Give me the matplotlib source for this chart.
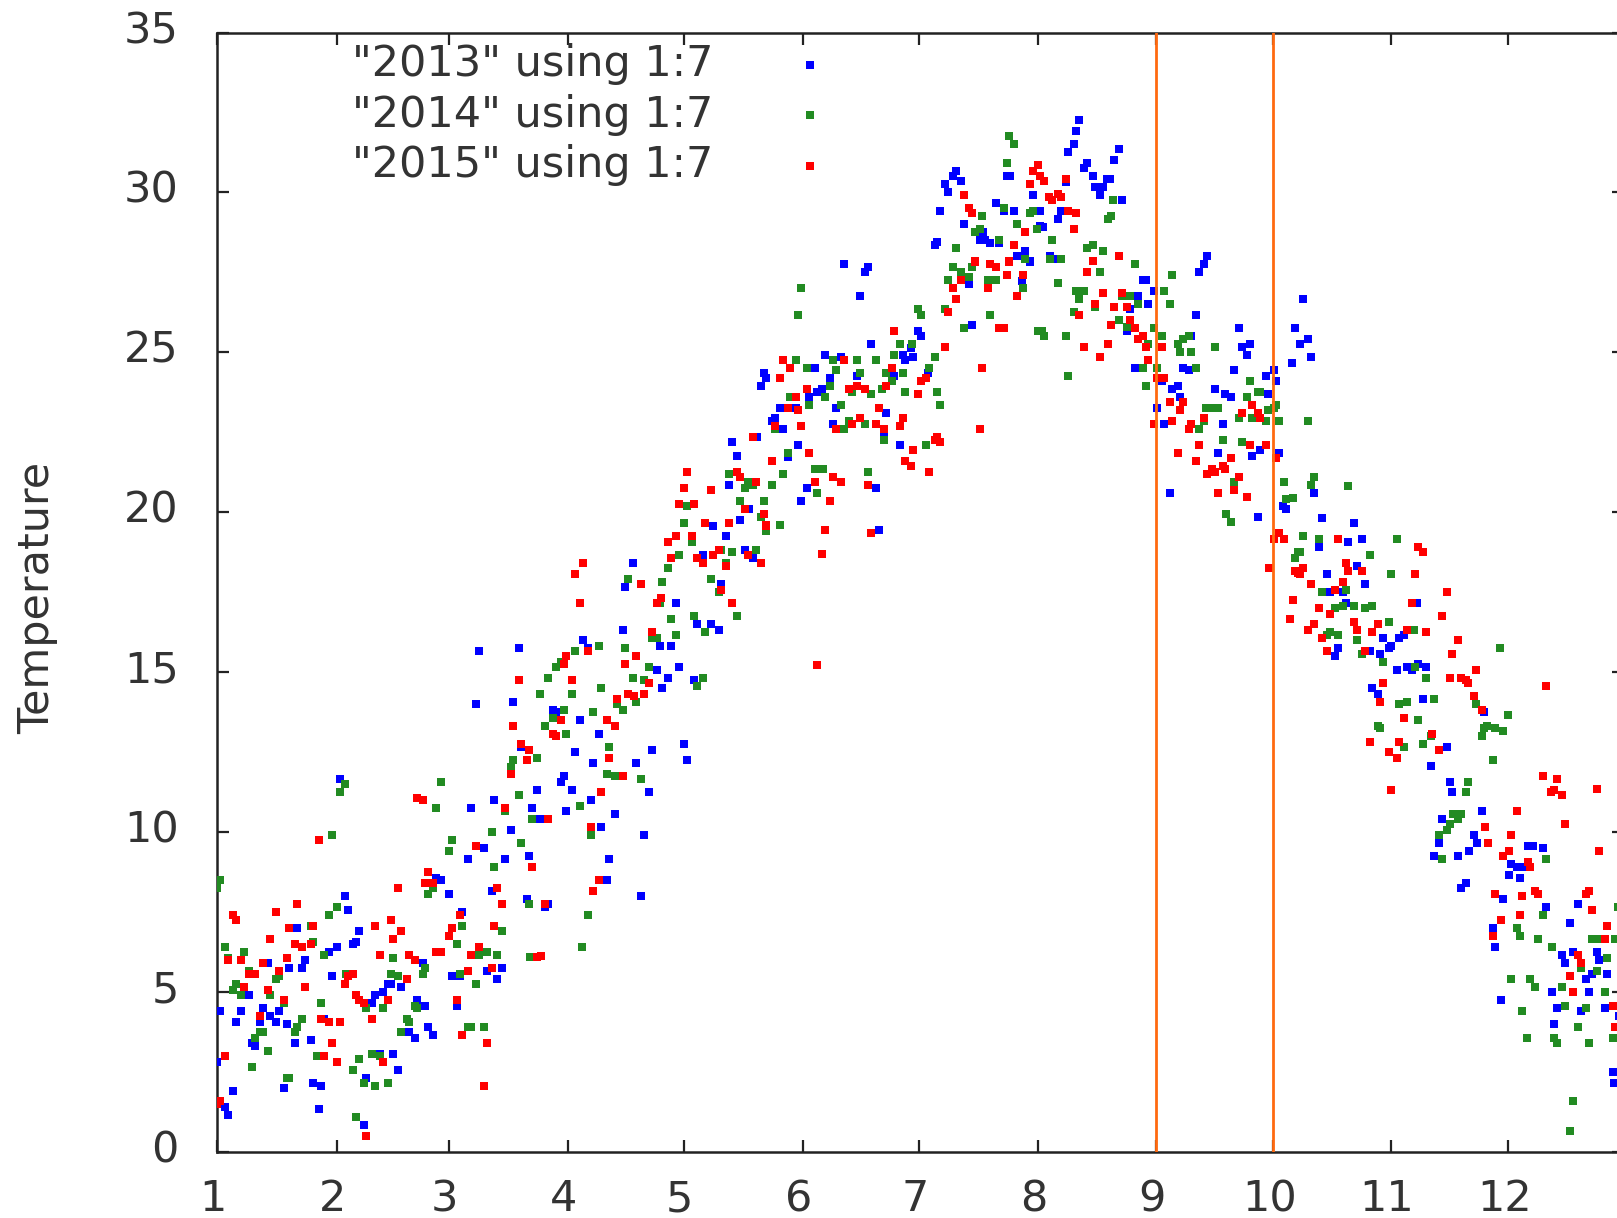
import matplotlib
matplotlib.use("Agg")
import matplotlib.pyplot as plt
from matplotlib.transforms import ScaledTranslation

plt.rcParams['font.family'] = ['DejaVu Sans']

W, H = 1617, 1218

series_names = ['"2013" using 1:7', '"2014" using 1:7', '"2015" using 1:7']
series_colors = ['#0000ff', '#228b22', '#ff0000']
month_labels = ['1', '2', '3', '4', '5', '6', '7', '8', '9', '10', '11', '12']
month_starts = [0, 31, 60, 91, 121, 152, 182, 213, 243.5, 274, 304.5, 335]
temp_ticks = [0, 5, 10, 15, 20, 25, 30, 35]
marked_months = [243.5, 274]

# (day of year, temperature)
pts_2013 = [
(31.8,11.67),(71.9,10.99),(65.7,10.74),(69.2,9.49),(65.0,9.16),(56.7,8.57),(58.1,8.49),(71.3,8.16),(60.2,8.07),(33.2,7.99),
(33.9,7.57),(63.6,7.49),(20.8,6.99),(36.7,6.91),(36.0,6.57),(35.3,6.49),(31.1,6.41),(29.1,6.24),(22.8,5.99),(13.1,5.91),
(22.1,5.74),(18.7,5.74),(53.3,5.91),(69.9,5.66),(74.0,5.74),(29.7,5.49),(60.9,5.49),(62.9,5.49),(72.6,5.41),(45.0,5.24),
(44.3,5.24),(47.7,5.16),(42.9,4.99),(40.8,4.91),(40.1,4.66),(8.3,4.91),(51.9,4.74),(54,4.57),(62.3,4.57),(0.7,4.41),
(6.2,4.41),(11.8,4.49),(15.9,4.41),(13.8,4.24),(4.8,4.07),(11.1,4.07),(15.2,4.07),(18,3.99),(27.7,4.16),(54.6,3.91),
(56,3.66),(49.8,3.74),(51.2,3.57),(24.2,3.49),(20.1,3.41),(9,3.41),(9.7,3.32),(42.2,3.07),(45.7,3.07),(0,2.82),
(47,2.57),(38.7,2.32),(24.9,2.16),(27,2.07),(17.3,1.99),(4.2,1.91),(2.1,1.41),(2.8,1.16),(26.3,1.32),(38,0.82),
(67.8,15.66),(67.1,14.01),
(107.9,18.41),(128.7,19.57),(132.1,19.24),(125.9,18.66),(137,18.82),(139.1,18.57),(130.8,17.74),(105.9,17.66),(119,17.16),(105.2,16.32),
(124.5,16.49),(128,16.49),(130.1,16.32),(94.8,15.99),(96.2,15.74),(78.2,15.74),(114.8,15.82),(117.6,15.82),(114.2,15.07),(119.7,15.16),
(116.9,14.82),(123.8,14.74),(115.5,14.49),(76.8,14.07),(87.2,13.82),(87.9,13.74),(94.1,13.49),(99,13.07),(78.9,12.66),(92.7,12.49),
(112.8,12.57),(121.1,12.74),(97.5,12.16),(108.6,12.16),(121.8,12.24),(90,11.74),(89.2,11.57),(83,11.32),(92,11.32),(112.1,11.24),
(81.6,10.74),(96.9,10.99),(90.6,10.66),(103.1,10.57),(83.7,10.41),(99.6,10.16),(76.1,10.07),(110.7,9.91),(81,9.24),(101.7,9.16),
(74.7,9.16),(101,8.49),(110,7.99),(80.3,7.91),(85.8,7.74),(85.1,7.66),
(133.5,22.18),(134.9,21.77),(132.8,20.85),(135.6,19.77),
(162.6,27.77),(168.8,27.68),(168.1,27.52),(195.1,27.14),(166.7,26.77),(211,27.82),(208.9,27.22),(195.8,25.85),(181.9,25.68),(182.6,25.52),
(169.5,25.27),(179.9,25.14),(157.7,24.93),(161.9,24.85),(177.8,24.93),(178.5,24.77),(180.6,24.85),(155,24.52),(166,24.27),(175.7,24.27),
(184.4,24.35),(141.8,24.35),(142.5,24.18),(141.1,23.93),(159.1,24.18),(157,23.85),(155.7,23.77),(153.6,23.6),(146,23.27),(150.1,23.27),
(160.5,23.27),(173.6,23.1),(144.6,22.93),(143.9,22.85),(159.8,22.77),(146.7,22.6),(140.1,22.35),(173,22.43),(150.8,22.1),(177.1,22.1),
(148,21.72),(170.9,20.77),(152.9,20.77),(151.5,20.35),(138,20.1),(171.6,19.43),
(191.6,30.68),(190.9,30.52),(188.9,30.27),(189.5,30.02),(193,30.35),(187.5,29.43),(202,29.68),(204.8,30.52),(205.8,30.52),(211.7,29.93),
(206.8,29.43),(204,29.43),(193.7,29),(213.4,29.43),(198.7,28.76),(197.8,28.52),(199.2,28.52),(200.6,28.43),(202.7,28.43),(186.8,28.45),
(186.1,28.35),(209.6,28.18),(207.5,28.02),(211,27.85),(213.4,28.96),
(223.6,32.27),(222.9,31.93),(222.2,31.52),(220.8,31.27),(234,31.35),(232.6,31.02),(225.7,30.93),(225,30.77),(227.1,30.52),(231.6,30.43),
(230.9,30.43),(220.1,30.32),(227.7,30.18),(229.8,30.18),(229.1,29.93),(234.7,29.77),(218.8,29.43),(218.1,29.18),(214.3,28.93),(216,28),
(216.9,27.93),(240.2,27.27),(240.9,27.27),(243,26.93),(256.8,28),(256.1,27.77),(254.7,27.52),(238.8,26.77),(241.6,26.52),(236.7,26.35),
(281.7,26.68),(254,26.18),(236,25.68),(265.1,25.77),(279.6,25.77),(283.1,25.43),(252.6,25.52),(281,25.27),(267.9,25.27),(265.8,25.18),
(267.2,24.93),(283.8,24.85),(278.9,24.68),(238.1,24.52),(250.6,24.52),(252,24.43),(263.7,24.43),(274.1,24.43),(272,24.27),(274.8,24.1),
(245,24.1),(249.2,23.93),(247.8,23.85),(258.9,23.85),(261.6,23.68),(263,23.6),(272.7,23.68),(249.9,23.6),(243.7,23.27),(245.7,22.77),
(260.9,22.77),(259.6,21.85),(270.6,21.93),(268.6,21.77),(275.5,21.85),(247.1,20.6),(284.5,20.6),(270,19.84),(277.4,20.1),(276.6,20.18),
(286.6,19.82),(294.9,19.66),(293.5,19.07),(297,19.16),(285.9,18.91),(295.6,18.32),(288,18.07),(297.7,17.74),(288.7,17.49),(292.1,17.49),
(292.8,17.16),(311.2,17.16),(302.5,16.07),(306.7,16.07),(308,16.16),(304.6,15.82),(303.9,15.74),(290.8,15.74),(290,15.49),(299,15.66),
(301.8,15.57),(311.5,15.24),(308.7,15.16),(310.1,15.07),(313.6,15.16),(306,15.07),(299.7,14.49),(301.1,14.32),(312.9,14.16),(328.8,13.74),
(319.1,12.66),(315,12.07),(319.8,11.57),(320.5,11.24),
(328.2,10.66),(317.8,10.41),(326.1,9.91),(326.8,9.66),(317.1,9.66),(324.7,9.41),(315.7,9.24),(322,9.24),(340,9.57),(341.3,9.57),
(344.1,9.49),(335.8,8.99),(337.2,8.91),(338.6,8.91),(335.1,8.66),(337.9,8.57),(324,8.41),(322.7,8.24),(333.7,7.91),(344.8,7.66),
(353.1,7.74),(351,7.16),(331,6.99),(331.6,6.41),(348.9,6.16),(349.6,5.91),(351.7,6.24),(357.9,6.24),(358.6,5.99),(356.6,5.57),
(355.2,5.41),(360.7,5.57),(346.2,4.99),(355.9,4.99),(333,4.74),(347.6,4.49),(353.8,4.41),(360,4.49),(363.6,4.24),(346.9,3.99),
(362.1,2.49),(362.5,2.16),
]

pts_2014 = [
(33.2,11.49),(31.8,11.24),(58.1,11.57),(56.7,10.74),(29.7,9.91),(71.2,9.99),(60.9,9.74),(60.2,9.41),(71.9,8.91),(0.7,8.49),
(0,8.24),(56,8.24),(54.6,8.07),(31.1,7.66),(29.1,7.41),(24.2,7.07),(63.6,7.07),(74,6.91),(2.1,6.41),(24.9,6.57),
(2.8,6.07),(6.9,6.24),(62.3,6.49),(27.7,6.16),(45.7,6.07),(69.9,6.24),(67.8,6.16),(72.6,6.16),(54,5.74),(53.3,5.57),
(62.9,5.57),(45,5.57),(47,5.49),(8.3,5.66),(33.5,5.57),(15.2,5.41),(15.9,5.49),(4.8,5.24),(4.2,5.07),(6.2,4.91),(13.8,4.91),
(67.1,5.24),(17.3,4.66),(27,4.66),(38.7,4.49),(42.9,4.49),(51.2,4.57),(51.9,4.49),(22.1,4.16),(20.8,3.91),(20.1,3.74),
(49.1,4.16),(49.8,4.07),(65,3.91),(65.7,3.91),(69.2,3.91),(47.7,3.74),(11.8,3.74),(11.1,3.74),(9.7,3.57),(13.1,3.16),
(40.1,3.07),(42.2,2.99),(36.7,2.91),(25.9,2.99),(35.3,2.57),(9,2.66),(18,2.32),(18.7,2.32),(38,2.16),(40.8,2.07),
(44.3,2.16),(36,1.07),
(121.1,19.66),(142.5,19.41),(123.1,19.07),(119.7,18.66),(133.5,18.74),(139.8,18.82),(130.8,18.82),(132.1,18.41),(116.9,18.24),(128,17.91),
(106.5,17.91),(115.5,17.82),(130.1,17.49),(114.8,17.16),(117.6,16.66),(123.8,16.74),(134.9,16.74),(126.6,16.24),(119,16.16),(114.2,16.07),
(112.8,16.07),(99,15.82),(105.9,15.74),(92.7,15.66),(89.2,15.32),(87.9,15.16),(112.1,15.16),(85.8,14.82),(107.9,14.82),(110.7,14.74),
(125.9,14.82),(124.5,14.57),(99.6,14.49),(83.7,14.32),(92,14.32),(108.6,14.07),(103.8,13.99),(105.2,13.82),(90,13.82),(97.5,13.74),
(87.2,13.57),(85.1,13.32),(90.6,13.07),(101.7,12.66),(83,12.32),(76.8,12.24),(76.1,12.03),(101,11.82),(103.1,11.74),(110,11.66),
(78.2,11.16),(94.1,10.82),(74.7,10.66),(81.6,10.41),(96.9,9.91),(78.9,9.66),(81,7.74),(96.2,7.41),(94.5,6.4),(81.1,6.1),
(132.8,21.18),(135.6,20.35),(121.8,20.18),
(151.5,27.02),(150.8,26.18),(190.9,27.68),(195.8,27.68),(193,27.52),(195.1,27.35),(189.6,27.27),(199.9,27.27),(202,27.27),(209.1,27.02),
(181.9,26.35),(182.6,26.18),(188.9,26.35),(200.6,26.18),(193.7,25.77),(213,25.68),(177.1,25.27),(180.2,25.27),(175.7,24.93),(186.1,24.85),
(150.1,24.77),(159.8,24.77),(166,24.77),(170.9,24.77),(152.9,24.52),(160.5,24.43),(184.7,24.52),(166.7,24.35),(173.6,24.35),(177.8,24.35),
(175,24.1),(159.1,23.93),(172.6,23.85),(164.7,23.77),(169.5,23.68),(178.5,23.77),(186.8,23.77),(148.7,23.6),(157.7,23.6),(153.6,23.35),
(161.9,23.35),(187.5,23.35),(164,22.85),(168.1,22.77),(144.6,22.6),(162.6,22.6),(173,22.27),(184,22.1),(148,21.85),(146.7,21.18),
(155,21.35),(156.4,21.35),(157.2,21.35),(168.8,21.27),(143.9,20.85),(137,20.77),(137.7,20.93),(139,20.85),(155.7,20.6),(141.8,20.35),
(141.1,19.85),(146,19.6),
(205.5,31.77),(206.8,31.52),(204.8,30.93),(198.5,29.27),(204,29.52),(211.7,29.43),(211,29.35),(207.5,29.02),(197.8,28.85),(196.5,28.77),
(212.7,28.85),(202.7,28.52),(191.6,28.27),(209.6,27.93),
(232.4,29.77),(231.9,29.27),(231.2,29.18),(216.7,28.52),(227.1,28.35),(225.7,28.27),(229.8,28.18),(218.8,27.93),(216,27.93),(238.1,27.77),
(229.1,27.52),(247.8,27.43),(218.1,27.18),(222.9,26.93),(225,26.93),(224,26.93),(223.6,26.68),(245.7,26.93),(234.7,26.77),(236.7,26.77),
(238.8,26.52),(247.1,26.52),(227.7,26.41),(222.2,26.27),(234,26),(236,25.8),(243,25.77),(213.9,25.68),(214.6,25.52),(220.1,25.52),
(245,25.52),(250.6,25.43),(252,25.52),(249.2,25.27),(241.6,25.27),(258.9,25.18),(249.9,25.02),(252.6,25.02),(240.2,24.52),(243.7,24.52),
(254,24.52),(220.8,24.27),(267.9,24.1),(240.9,23.93),(270,23.77),(270.6,23.77),(267.2,23.6),(274.8,23.35),(274.1,23.27),(272.7,23.18),
(256.5,23.27),(257.8,23.27),(259.6,23.27),(265.1,22.93),(268.6,22.93),(272,22.85),(275.5,22.85),(283.1,22.85),(256.1,22.85),(254.7,22.6),
(260.9,22.27),(265.8,22.18),(284.5,21.1),(283.8,20.85),(276.9,20.93),(263.7,20.93),(279,20.45),(277.4,20.4),
(261.7,19.93),(263.1,19.68),(280.5,18.75),
(293.5,20.82),(281.8,19.24),(285.9,19.16),(306,19.16),(281,18.74),(279.7,18.57),(299,18.66),(304.6,18.07),(286.6,17.49),(292.8,17.57),
(290,16.99),(292.1,17.07),(294.9,17.07),(297.7,16.99),(299.7,17.07),(303.9,16.57),(310.5,16.32),(288.7,16.24),(288,16.16),(290.8,16.16),
(295.6,15.99),(332.9,15.74),(297,15.57),(302.5,15.32),(310.8,15.16),(313.6,14.82),(315.7,14.16),(308.7,14.07),(306.7,13.99),(326.7,13.99),
(335,13.66),(311.5,13.49),(301.1,13.32),(301.8,13.24),(329.5,13.32),(328.8,13.24),(331.6,13.24),(333.6,13.16),(328.1,12.99),(315,12.99),
(312.9,12.74),(308,12.66),(330.9,12.24),(324.6,11.57),(324,11.24),
(320.6,10.57),(322,10.57),(322.7,10.57),(322,10.41),(319.9,10.24),(319.2,10.07),(317.1,9.91),(317.8,9.16),(344.8,9.16),(344.1,7.41),
(337.2,6.99),(337.9,6.74),(342.7,6.66),(346.2,6.41),(356.6,6.66),(358,6.66),(362.7,6.66),(363.5,7.66),(360.7,6.07),(353.8,5.74),
(358,5.66),(335.8,5.41),(340.6,5.41),(342,5.16),(348.9,5.16),(360,4.99),(349.6,4.57),(355.2,4.49),(338.6,4.41),(353.1,3.91),
(339.9,3.57),(346.9,3.57),(347.6,3.41),(355.9,3.41),(362.1,3.57),(351.7,1.57),(351,0.66),
]

pts_2015 = [
(51.9,11.07),(53.3,10.99),(26.3,9.74),(67.1,9.57),(54.6,8.74),(54,8.41),(56,8.41),(47,8.24),(72.6,8.24),(20.8,7.74),
(74,7.74),(15.2,7.49),(4.2,7.41),(4.8,7.24),(45,7.24),(63,7.41),(24.9,7.07),(18.7,6.99),(40.8,7.07),(71.9,7.07),
(60.9,6.99),(47.7,6.91),(60.2,6.74),(13.8,6.66),(45.7,6.66),(20.1,6.49),(22.1,6.41),(24.2,6.49),(67.8,6.41),(56.7,6.24),
(58.1,6.24),(65.7,6.16),(42.2,6.16),(49.8,6.16),(2.8,5.99),(6.2,5.99),(18,6.07),(11.8,5.91),(51.2,5.99),(15.9,5.66),
(8.3,5.57),(9.7,5.57),(65,5.66),(71.2,5.74),(35.3,5.57),(33.9,5.49),(33.2,5.24),(49.1,5.41),(6.9,5.16),(22.8,5.16),
(13.1,5.07),(36,4.91),(36.7,4.74),(38,4.66),(44.3,4.74),(17.3,4.74),(62.3,4.74),(11.1,4.24),(27,4.16),(29.1,4.07),
(31.8,4.07),(40.1,4.16),(63.6,3.66),(29.7,3.41),(69.9,3.41),(2.1,2.99),(27.7,2.99),(31.1,2.82),(42.9,2.82),(69.2,2.07),
(0.7,1.57),(0,1.49),(38.7,0.49),
(126.6,19.66),(132.8,19.66),(142.5,19.57),(119,19.24),(123.1,19.24),(116.9,19.07),(117.6,18.57),(124.5,18.57),(130.1,18.82),(128.7,18.66),
(137.7,18.66),(125.9,18.41),(132.1,18.32),(141.1,18.41),(94.8,18.41),(92.7,18.07),(110,17.74),(130.8,17.57),(115.2,17.32),(114.2,17.16),
(94.1,17.16),(133.5,17.16),(112.8,16.24),(96.2,15.66),(108.6,15.49),(90.6,15.49),(90,15.24),(105.9,15.24),(112.1,14.66),(78.2,14.74),
(92,14.74),(110.7,14.32),(106.5,14.32),(108,14.24),(103.8,14.16),(89.2,13.49),(101,13.49),(103.1,13.32),(76.8,13.32),(87.2,13.07),
(87.9,12.99),(78.9,12.74),(81,12.57),(101.7,12.32),(80.3,12.24),(76.1,11.82),(105.2,11.74),(99.6,11.24),(74.7,10.74),(85.8,10.41),
(96.9,10.16),(81.6,8.9),(99,8.49),(97.5,8.16),(85.1,7.74),(83,6.1),(84,6.13),
(134.9,21.27),(135.6,21.1),(121.8,21.27),(121,20.77),(128,20.68),(119.7,20.27),(123.8,20.27),
(196.5,27.82),(200.6,27.77),(202,27.68),(205.5,27.82),(204.8,27.43),(209.1,27.43),(193,27.27),(191,27.02),(199.9,27.02),(191.6,26.68),
(207.5,26.77),(189.6,26.27),(175.7,25.68),(202.7,25.77),(204.1,25.77),(188.9,25.18),(146.7,24.77),(148.7,24.52),(162.6,24.77),(175,24.52),
(198.5,24.52),(146,24.18),(184,24.18),(182.6,24.1),(152.9,23.85),(164,23.85),(166,23.93),(168.1,23.85),(173.6,23.93),(150.1,23.6),
(181.9,23.68),(148,23.27),(150.8,23.18),(171.6,23.27),(177.8,22.93),(166.7,22.93),(164.7,22.77),(170.9,22.77),(151.5,22.68),(177.1,22.68),
(144.6,22.68),(160.5,22.6),(173,22.6),(197.9,22.6),(139,22.35),(186.8,22.35),(186.1,22.27),(187.5,22.18),(180.6,21.93),(153.6,21.85),
(143.9,21.6),(178.5,21.6),(179.9,21.43),(184.7,21.27),(159.8,21.1),(161.9,20.93),(155,20.93),(168.8,20.85),(139.8,20.93),(159.1,20.35),
(137,20.1),(141.8,19.93),(157.7,19.43),(169.5,19.35),(142.5,19.6),(157,18.68),(155.7,15.23),
(213,30.85),(211.7,30.68),(213.4,30.52),(211,30.27),(193.7,29.93),(195.1,29.52),(195.8,29.35),(209.6,28.77),(206.8,28.35),(205.5,27.85),
(196.5,27.85),
(214.6,30.35),(220.1,30.43),(215.8,29.85),(216.7,29.77),(218.1,29.95),(218.8,29.85),(220.8,29.43),(222.9,29.35),(222.2,28.85),(234,28),
(227.1,27.85),(225.7,27.52),(229.8,26.85),(234.7,26.85),(227.7,26.52),(232.6,26.43),(236,26.43),(223.6,26.18),(236.7,26),(231.9,25.85),
(238.1,25.77),(240.2,25.52),(238.8,25.43),(225,25.18),(231.2,25.27),(240.9,25.18),(245,25.18),(229.1,24.85),(241.6,24.77),(243.7,24.18),
(245,24.18),(245.7,24.18),(247.1,23.43),(250.6,23.43),(249.9,23.18),(268.6,23.35),(265.8,23.1),(270,23.1),(270.6,22.93),(256.1,22.93),
(243,22.77),(247.8,22.85),(252.7,22.77),(252,22.6),(254.7,22.1),(267.9,22.1),(272,22.1),(249.2,21.85),(274.8,21.68),(254,21.6),
(263,21.68),(260.9,21.43),(261.6,21.35),(258.2,21.35),(258.9,21.27),(256.8,21.18),(265.1,21.1),(259.6,20.6),(263.7,20.7),(267.2,20.47),
(275.5,19.34),(274.2,19.17),(276.9,19.17),(272.8,18.26),(280.5,18.1),
(290.8,19.16),(311.5,18.91),(312.9,18.74),(292.8,18.41),(281.8,18.24),(279.7,18.16),(281,18.07),(293.5,18.16),(297,18.16),(310.8,18.07),
(283.8,17.74),(292.1,17.82),(290,17.57),(319.1,17.49),(279,17.24),(310.1,17.16),(285.9,16.99),(288.7,16.82),(317.7,16.74),(278.3,16.66),
(284.5,16.49),(294.9,16.57),(301.1,16.49),(283.1,16.32),(295.6,16.32),(299.7,16.24),(308.7,16.32),(313.6,16.24),(286.6,16.07),(321.9,15.99),
(288,15.66),(297.7,15.66),(320.5,15.57),(326.7,15.07),(319.8,14.82),(322.6,14.82),(324,14.74),(324.6,14.66),(302.5,14.66),(344.7,14.57),
(326,14.24),(301.8,14.07),(328.1,13.82),(308,13.57),(315.3,13.07),(299,12.82),(306.7,12.82),(317,12.57),(303.9,12.49),(306,12.32),
(304.6,11.32),(344,11.74),(347.5,11.66),(346.8,11.32),(346.1,11.24),(348.9,11.16),
(358,11.33),(337.2,10.66),(328.9,10.16),(349.6,10.24),(335.8,9.91),(329.6,9.66),(358.6,9.41),(335.1,9.41),(333.7,9.24),(340,9.07),
(340.6,8.91),(355.9,8.16),(355.2,8.07),(342,8.16),(342.7,8.07),(331.6,8.07),(338.6,7.99),(356.6,7.57),(337.9,7.41),(333,7.24),
(360.7,7.07),(331,6.74),(360,6.66),(353.1,6.16),(353.8,5.91),(351,5.49),(351.7,4.99),(362.1,4.57),(362.7,3.91),
]

fig = plt.figure(figsize=(W / 100, H / 100), dpi=100)
ax = fig.add_axes([217.3 / W, 1 - 1151.7 / H, (1624 - 217.3) / W, (1151.7 - 32.5) / H])

for pts, name, color in zip((pts_2013, pts_2014, pts_2015), series_names, series_colors):
    days = [p[0] for p in pts]
    temps = [p[1] for p in pts]
    ax.scatter(days, temps, s=36, marker='s', color=color, linewidths=0, label=name, zorder=3)

for d in marked_months:
    ax.axvline(d, color='#ff6a10', lw=2.0, zorder=4)

ax.set_xlim(0, 365)
ax.set_ylim(0, 35)
ax.set_xticks(month_starts)
ax.set_xticklabels(month_labels)
ax.set_yticks(temp_ticks)
ax.tick_params(direction='in', length=8.6, width=1.6, top=True, right=True,
               labelsize=31, labelcolor='#333333', color='#222222')
ax.tick_params(axis='x', pad=19)
ax.tick_params(axis='y', pad=25)
for s in ax.spines.values():
    s.set_linewidth(1.8)
    s.set_color('#222222')

shift_y = ScaledTranslation(-4 / 100, 6 / 100, fig.dpi_scale_trans)
for lab in ax.get_yticklabels():
    lab.set_transform(lab.get_transform() + shift_y)
shift_x = ScaledTranslation(-4 / 100, 0, fig.dpi_scale_trans)
for lab in ax.get_xticklabels():
    lab.set_transform(lab.get_transform() + shift_x)

fig.text(37 / W, 1 - 598 / H, 'Temperature', rotation=90, ha='center', va='center',
         fontsize=31, color='#333333')

leg = ax.legend(loc='upper left', bbox_to_anchor=(135 / 1407, 0.9905), frameon=False,
                markerfirst=False, fontsize=31, labelspacing=0.2, handletextpad=1.24,
                handlelength=2.0, borderpad=0, borderaxespad=0, scatterpoints=1, labelcolor='#333333')
fig.savefig('out.png', dpi=100)
